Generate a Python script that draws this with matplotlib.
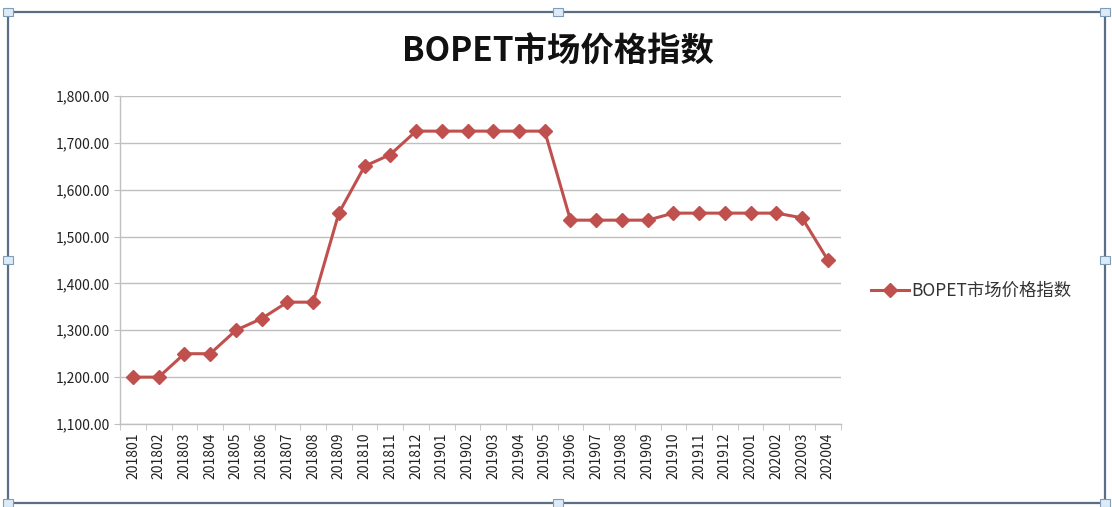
import matplotlib
matplotlib.use("Agg")
import matplotlib.pyplot as plt
import matplotlib.patches as patches
import numpy as np

plt.rcParams['font.family'] = ['Noto Sans CJK SC', 'DejaVu Sans']

# data
months = ['201801', '201802', '201803', '201804', '201805', '201806', '201807',
          '201808', '201809', '201810', '201811', '201812', '201901', '201902',
          '201903', '201904', '201905', '201906', '201907', '201908', '201909',
          '201910', '201911', '201912', '202001', '202002', '202003', '202004']
index_values = [1200, 1200, 1250, 1250, 1300, 1325, 1360, 1360, 1550, 1650,
                1675, 1725, 1725, 1725, 1725, 1725, 1725, 1535, 1535, 1535,
                1535, 1550, 1550, 1550, 1550, 1550, 1540, 1450]
series_name = 'BOPET市场价格指数'
y_ticks = [1100, 1200, 1300, 1400, 1500, 1600, 1700, 1800]

line_color = '#C0504D'
grid_color = '#BFBFBF'

fig = plt.figure(figsize=(11.12, 5.07), dpi=100)
ax = fig.add_axes([0.108, 0.1637, 0.648, 0.647])

x = np.arange(len(months))
line, = ax.plot(x, index_values, color=line_color, lw=2.2, marker='D',
                markersize=7.5, markeredgecolor=line_color, zorder=3)

ax.set_xlim(-0.5, len(months) - 0.5)
ax.set_ylim(y_ticks[0], y_ticks[-1])
ax.set_yticks(y_ticks)
ax.set_yticklabels([f'{v:,.2f}' for v in y_ticks], fontsize=10, color='#222222')
ax.set_xticks(x)
ax.set_xticklabels(months, rotation=90, fontsize=10, color='#222222')
ax.set_xticks(np.arange(-0.5, len(months)), minor=True)
ax.tick_params(axis='x', which='major', length=0, pad=6)
ax.tick_params(axis='x', which='minor', length=4, color=grid_color, direction='out')
ax.tick_params(axis='y', length=4, color=grid_color, pad=3)

ax.yaxis.grid(True, color=grid_color, lw=1.0)
ax.set_axisbelow(True)
for side in ['top', 'right']:
    ax.spines[side].set_visible(False)
for side in ['left', 'bottom']:
    ax.spines[side].set_color(grid_color)
    ax.spines[side].set_linewidth(1.0)

fig.text(0.502, 0.897, series_name, ha='center', va='center',
         fontsize=24, fontweight='bold', color='#111111')

fig.legend([line], [series_name], loc='center left',
           bbox_to_anchor=(0.769, 0.426), frameon=False, fontsize=12.5,
           handlelength=2.2, handletextpad=0.15, labelcolor='#333333')

# excel-style chart frame with selection handles
frame_color = '#5A6E86'
fig.patches.append(patches.Rectangle((8 / 1112, 4 / 507), 1097 / 1112, 491 / 507,
                                     transform=fig.transFigure, fill=False,
                                     edgecolor=frame_color, lw=1.6))
handles = [(8, 12), (558, 12), (1105, 12), (8, 260), (1105, 260),
           (8, 503), (558, 503), (1105, 503)]
for hx, hy in handles:
    fig.patches.append(patches.Rectangle(((hx - 5) / 1112, 1 - (hy + 4) / 507),
                                         10 / 1112, 8 / 507,
                                         transform=fig.transFigure,
                                         facecolor='#DCEBF7', edgecolor='#7F9DB9',
                                         lw=0.8, zorder=5))

fig.savefig('out.png', dpi=100)
